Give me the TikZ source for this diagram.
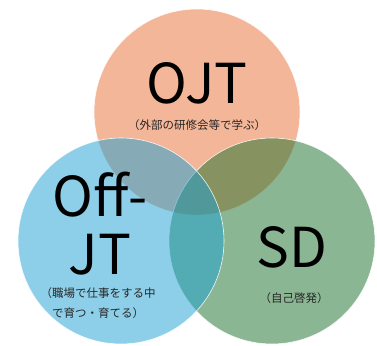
\documentclass[tikz,border=0pt]{standalone}
\usepackage{fontspec}
\setmainfont{Noto Sans CJK JP}
\usepackage{xcolor}
\usetikzlibrary{calc}
\usetikzlibrary{positioning}

\definecolor{ojtc}{RGB}{234,110,50}
\definecolor{offc}{RGB}{28,160,212}
\definecolor{sdc}{RGB}{24,110,40}

\begin{document}
\begin{tikzpicture}[x=1pt, y=-1pt, font=\rmfamily]
	\tikzstyle{venn}=[circle, draw=white, line width=0.6pt, fill opacity=0.5, draw opacity=0.9, minimum size=206pt, inner sep=0pt]
	\tikzstyle{big}=[text=black, align=center, inner sep=0pt, font=\fontsize{55}{58}\selectfont]
	\tikzstyle{small}=[text=black!85, align=center, inner sep=0pt, font=\fontsize{11.5}{20}\selectfont]
	
	\useasboundingbox (0,0) rectangle (377,345);
	
	\node[venn, fill=ojtc] (ojt) at (197,112) {};
	\node[venn, fill=sdc] (sd) at (272,241) {};
	\node[venn, fill=offc] (offjt) at (121,241) {};
	
	\node[big] (ojtlbl) at ($(ojt.center) + (0,-29)$) {OJT};
	\node[small] (ojtsub) at ($(ojt.center) + (0,13)$) {（外部の研修会等で学ぶ）};
	
	\node[big] (offlbl) at ($(offjt.center) + (-21,-17)$) {Off-\\JT};
	\node[small] (offsub) at ($(offjt.center) + (-23,62)$) {（職場で仕事をする中\\で育つ・育てる）};
	
	\node[big] (sdlbl) at ($(sd.center) + (20,6)$) {SD};
	\node[small] (sdsub) at ($(sd.center) + (22,57)$) {（自己啓発）};
\end{tikzpicture}
\end{document}
